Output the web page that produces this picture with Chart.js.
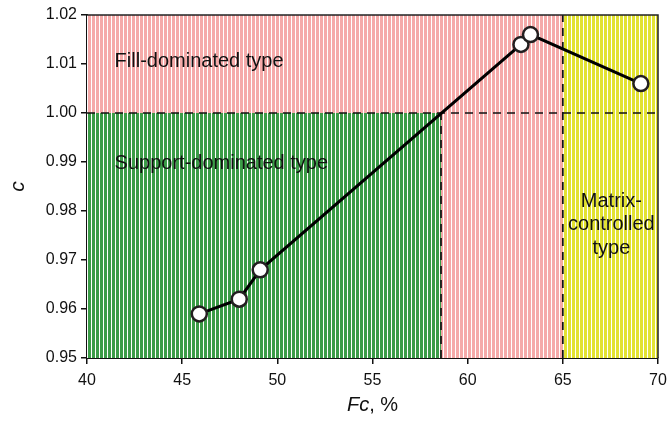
<!DOCTYPE html>
<html>
<head>
<meta charset="utf-8">
<script src="https://cdn.jsdelivr.net/npm/chart.js@4"></script>
<style>
  html, body { margin: 0; padding: 0; background: #fff; }
  #wrap { width: 668px; height: 430px; }
</style>
</head>
<body>
<div id="wrap"><canvas id="fcChart" width="668" height="430"></canvas></div>
<script>
// measured points
var fcValues = [45.9, 48.0, 49.1, 62.8, 63.3, 69.1];
var cValues = [0.959, 0.962, 0.968, 1.014, 1.016, 1.006];

// axis ticks
var xTicks = [40, 45, 50, 55, 60, 65, 70];
var yTicks = [0.95, 0.96, 0.97, 0.98, 0.99, 1.00, 1.01, 1.02];

// zones (x from, x to, y from, y to)
var zoneNames = ['fill', 'support', 'matrix'];
var zoneX0 = [40, 40, 65];
var zoneX1 = [70, 58.6, 70];
var zoneY0 = [0.95, 0.95, 0.95];
var zoneY1 = [1.02, 1.00, 1.02];

// boundary lines
var dashH = [1.00];
var dashV = [58.6, 65];
var dashVTop = [1.00, 1.02];

var FONT = '"Liberation Sans", Arial, sans-serif';

function stripes(color) {
    var c = document.createElement('canvas');
    c.width = 4; c.height = 4;
    var g = c.getContext('2d');
    g.fillStyle = '#ffffff';
    g.fillRect(0, 0, 4, 4);
    g.fillStyle = color;
    g.fillRect(0, 0, 3, 4);
    return g.createPattern(c, 'repeat');
}

var zonePlugin = {
    id: 'zones',
    beforeDatasetsDraw: function(chart) {
        var ctx = chart.ctx, x = chart.scales.x, y = chart.scales.y;
        var fills = {
            fill: stripes('#f5aaa9'),
            support: stripes('#3b9c47'),
            matrix: stripes('#e2e232')
        };
        ctx.save();
        for (var i = 0; i < zoneNames.length; i++) {
            var l = x.getPixelForValue(zoneX0[i]), r = x.getPixelForValue(zoneX1[i]);
            var t = y.getPixelForValue(zoneY1[i]), b = y.getPixelForValue(zoneY0[i]);
            ctx.fillStyle = fills[zoneNames[i]];
            ctx.fillRect(l, t, r - l, b - t);
        }
        // dashed borders
        ctx.strokeStyle = '#111';
        ctx.lineWidth = 1.7;
        ctx.setLineDash([8, 6]);
        dashH.forEach(function(v) {
            var py = y.getPixelForValue(v);
            ctx.beginPath();
            ctx.moveTo(x.left, py); ctx.lineTo(x.right, py);
            ctx.stroke();
        });
        dashV.forEach(function(v, k) {
            var px = x.getPixelForValue(v);
            ctx.beginPath();
            ctx.moveTo(px, y.bottom); ctx.lineTo(px, y.getPixelForValue(dashVTop[k]));
            ctx.stroke();
        });
        ctx.setLineDash([]);

        // zone labels
        ctx.fillStyle = '#111';
        ctx.font = '20px ' + FONT;
        ctx.textBaseline = 'middle';
        ctx.textAlign = 'left';
        ctx.fillText('Fill-dominated type', x.getPixelForValue(41.45), y.getPixelForValue(1.0105));
        ctx.fillText('Support-dominated type', x.getPixelForValue(41.45), y.getPixelForValue(0.9896));
        ctx.textAlign = 'center';
        var mx = x.getPixelForValue(67.55);
        ctx.fillText('Matrix-', mx, y.getPixelForValue(0.9820));
        ctx.fillText('controlled', mx, y.getPixelForValue(0.9772));
        ctx.fillText('type', mx, y.getPixelForValue(0.9724));
        ctx.restore();
    },
    afterDraw: function(chart) {
        var ctx = chart.ctx, a = chart.chartArea;
        ctx.save();
        ctx.strokeStyle = '#222';
        ctx.lineWidth = 1.5;
        ctx.beginPath();
        ctx.moveTo(a.left, a.top); ctx.lineTo(a.right, a.top); ctx.lineTo(a.right, a.bottom);
        ctx.stroke();
        // axis titles
        ctx.fillStyle = '#111';
        ctx.textBaseline = 'middle';
        ctx.font = 'italic 20px ' + FONT;
        var w1 = ctx.measureText('Fc').width;
        ctx.font = '20px ' + FONT;
        var w2 = ctx.measureText(', %').width;
        var sx = (a.left + a.right) / 2 - (w1 + w2) / 2;
        ctx.textAlign = 'left';
        ctx.font = 'italic 20px ' + FONT;
        ctx.fillText('Fc', sx, 405);
        ctx.font = '20px ' + FONT;
        ctx.fillText(', %', sx + w1, 405);
        ctx.translate(18, (a.top + a.bottom) / 2);
        ctx.rotate(-Math.PI / 2);
        ctx.textAlign = 'center';
        ctx.font = 'italic 21px ' + FONT;
        ctx.fillText('c', 0, 0);
        ctx.restore();
    }
};

document.addEventListener('DOMContentLoaded', function() {
    var ctx = document.getElementById('fcChart').getContext('2d');
    var points = fcValues.map(function(v, i) { return { x: v, y: cValues[i] }; });

    new Chart(ctx, {
        type: 'scatter',
        data: {
            datasets: [{
                data: points,
                showLine: true,
                borderColor: '#000',
                borderWidth: 3,
                pointRadius: 7.5,
                pointBorderWidth: 2.5,
                pointBackgroundColor: '#fff',
                pointBorderColor: '#231f20'
            }]
        },
        options: {
            responsive: false,
            animation: false,
            layout: { padding: { top: 15, right: 7, left: 0, bottom: 0 } },
            plugins: { legend: { display: false }, tooltip: { enabled: false } },
            scales: {
                x: {
                    type: 'linear',
                    min: 40, max: 70,
                    afterBuildTicks: function(s) { s.ticks = xTicks.map(function(v) { return { value: v }; }); },
                    afterFit: function(s) { s.height = 72; s.paddingRight = 0; s.paddingLeft = 0; },
                    grid: { drawOnChartArea: false, color: '#111', tickLength: 6, lineWidth: 1.5 },
                    border: { color: '#111', width: 2 },
                    ticks: { color: '#111', padding: 7, maxRotation: 0, font: { family: FONT, size: 16 } }
                },
                y: {
                    min: 0.95, max: 1.02,
                    afterBuildTicks: function(s) { s.ticks = yTicks.map(function(v) { return { value: v }; }); },
                    afterFit: function(s) { s.width = 87; s.paddingTop = 0; s.paddingBottom = 0; },
                    grid: { drawOnChartArea: false, color: '#111', tickLength: 6, lineWidth: 1.5 },
                    border: { color: '#111', width: 2 },
                    ticks: {
                        color: '#111', padding: 4,
                        font: { family: FONT, size: 16 },
                        callback: function(v) { return v.toFixed(2); }
                    }
                }
            }
        },
        plugins: [zonePlugin]
    });
});
</script>
</body>
</html>
